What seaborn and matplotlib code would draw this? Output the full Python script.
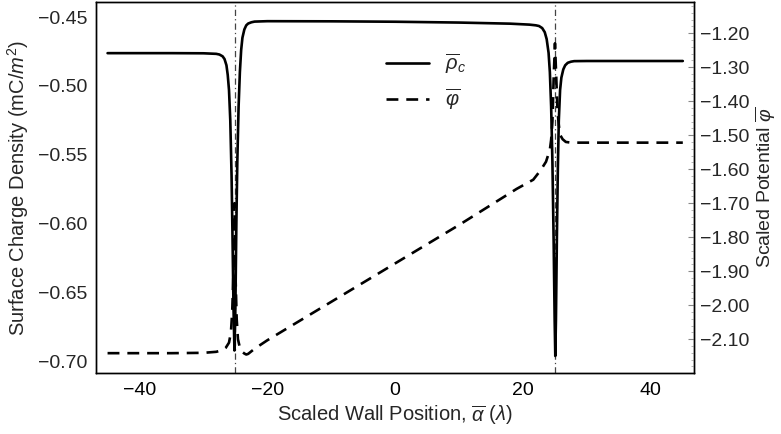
import matplotlib
matplotlib.use("Agg")
import matplotlib.pyplot as plt
import matplotlib.ticker as mticker
from matplotlib.lines import Line2D
import numpy as np
import pandas as pd
import seaborn as sns

sns.set_theme(style="white")
plt.rcParams["font.family"] = ["Liberation Sans", "DejaVu Sans"]
plt.rcParams["mathtext.fontset"] = "custom"
plt.rcParams["mathtext.rm"] = "Liberation Sans"
plt.rcParams["mathtext.it"] = "Liberation Sans:italic"
plt.rcParams["mathtext.bf"] = "Liberation Sans:bold"

# Surface charge density along the wall (left axis)
rho_x = [-45, -40, -35, -30, -28, -27.5, -27, -26.7, -26.4, -26.2, -26.0, -25.8,
         -25.6, -25.45, -25.3, -25.15, -25.0, -24.85, -24.7, -24.5, -24.3, -24.1,
         -23.9, -23.6, -23.3, -23.0, -22.5, -22, -20, -10, 0, 10, 18, 21, 22,
         22.5, 23.0, 23.4, 23.7, 24.0, 24.2, 24.4, 24.6, 24.8, 24.95, 25.05,
         25.15, 25.3, 25.45, 25.6, 25.8, 26.0, 26.3, 26.6, 27.0, 27.5, 28, 30,
         35, 40, 45]
rho_c = [-0.4762, -0.4762, -0.4762, -0.4763, -0.4767, -0.4772, -0.4785, -0.4805,
         -0.4850, -0.4920, -0.5030, -0.5250, -0.5650, -0.6100, -0.6600, -0.6920,
         -0.6600, -0.6000, -0.5550, -0.5150, -0.4900, -0.4740, -0.4650, -0.4590,
         -0.4560, -0.4547, -0.4538, -0.4533, -0.4530, -0.4531, -0.4534, -0.4540,
         -0.4548, -0.4555, -0.4560, -0.4565, -0.4580, -0.4610, -0.4660, -0.4760,
         -0.4900, -0.5150, -0.5550, -0.6150, -0.6700, -0.6960, -0.6700, -0.6100,
         -0.5600, -0.5250, -0.5030, -0.4940, -0.4880, -0.4850, -0.4832, -0.4824,
         -0.4820, -0.4819, -0.4819, -0.4819, -0.4819]

# Scaled potential along the wall (right axis)
phi_x = [-45, -40, -35, -30, -28, -27, -26.5, -26.0, -25.7, -25.5, -25.3, -25.15,
         -25.0, -24.8, -24.6, -24.3, -24.0, -23.6, -23.3, -23.0, -22, -20, -10,
         0, 10, 19, 21.6, 22.8, 23.6, 24.2, 24.4, 24.6, 24.8, 25.0, 25.2, 25.4,
         25.6, 25.8, 26.2, 26.7, 27.5, 30, 35, 40, 45]
phi = [-2.141, -2.141, -2.141, -2.140, -2.137, -2.132, -2.125, -2.110, -2.080,
       -2.020, -1.900, -1.700, -1.900, -2.040, -2.100, -2.125, -2.136, -2.142,
       -2.145, -2.143, -2.128, -2.103, -1.990, -1.877, -1.764, -1.658, -1.631,
       -1.602, -1.578, -1.543, -1.514, -1.460, -1.330, -1.230, -1.330, -1.430,
       -1.470, -1.499, -1.512, -1.520, -1.522, -1.522, -1.522, -1.522, -1.522]

wall_positions = [-25, 25]

x_ticks = [-40, -20, 0, 20, 40]
rho_ticks = [-0.70, -0.65, -0.60, -0.55, -0.50, -0.45]
phi_ticks = [-2.10, -2.00, -1.90, -1.80, -1.70, -1.60, -1.50, -1.40, -1.30, -1.20]

rho_df = pd.DataFrame({"alpha": rho_x, "rho": rho_c})
phi_df = pd.DataFrame({"alpha": phi_x, "phi": phi})

DASH = (0, (4.5, 3.0))

fig = plt.figure(figsize=(7.81, 4.34), dpi=100)
ax = fig.add_axes([0.123, 0.140, 0.766, 0.855])
ax2 = ax.twinx()

# domain wall positions
for xv in wall_positions:
    ax.axvline(xv, color="#444444", lw=0.9, ls=(0, (5, 2.5, 1, 2.5)), zorder=1)

sns.lineplot(data=rho_df, x="alpha", y="rho", ax=ax, color="black", lw=1.9,
             sort=False, estimator=None, zorder=3)
sns.lineplot(data=phi_df, x="alpha", y="phi", ax=ax2, color="black", lw=1.9,
             sort=False, estimator=None, zorder=3)
ax2.lines[-1].set_linestyle(DASH)

ax.set_xlim(-46.8, 46.8)
ax.set_ylim(-0.7085, -0.4392)
ax2.set_ylim(-2.200, -1.109)

tick_fs = 14
ax.set_xticks(x_ticks)
ax.set_xticklabels([f"{v:d}".replace("-", "\u2212") for v in x_ticks], fontsize=tick_fs)
ax.set_yticks(rho_ticks)
ax.set_yticklabels([f"{v:.2f}".replace("-", "\u2212") for v in rho_ticks], fontsize=tick_fs)
ax2.set_yticks(phi_ticks)
ax2.set_yticklabels([f"{v:.2f}".replace("-", "\u2212") for v in phi_ticks], fontsize=tick_fs)
ax2.yaxis.set_minor_locator(mticker.MultipleLocator(0.02))

ax.tick_params(axis="x", direction="in", length=4, width=0.8, color="#555555",
               pad=6, colors="black")
ax.tick_params(axis="y", length=0, pad=6)
ax2.tick_params(axis="y", which="major", direction="in", length=4, width=0.8,
                color="#888888", pad=4)
ax2.tick_params(axis="y", which="minor", direction="in", length=2, width=0.6,
                color="#aaaaaa")

for a in (ax, ax2):
    for s in a.spines.values():
        s.set_color("black")
        s.set_linewidth(1.0)

label_fs = 14.5
ax.set_xlabel(r"Scaled Wall Position, $\overline{\alpha}$ $(\lambda)$", fontsize=label_fs, labelpad=3)
ax.set_ylabel(r"Surface Charge Density (mC/$m^2$)", fontsize=label_fs, labelpad=5)
ax2.set_ylabel(r"Scaled Potential $\overline{\varphi}$", fontsize=14,
               rotation=90, labelpad=3)

handles = [Line2D([], [], color="black", lw=1.9),
           Line2D([], [], color="black", lw=1.9, ls=DASH)]
ax.legend(handles, [r"$\overline{\rho}_c$", r"$\overline{\varphi}$"],
          loc="upper left", bbox_to_anchor=(0.455, 0.915), frameon=False,
          fontsize=14.5, handlelength=2.1, labelspacing=0.5, handletextpad=0.8)

fig.savefig("out.png", dpi=100)
